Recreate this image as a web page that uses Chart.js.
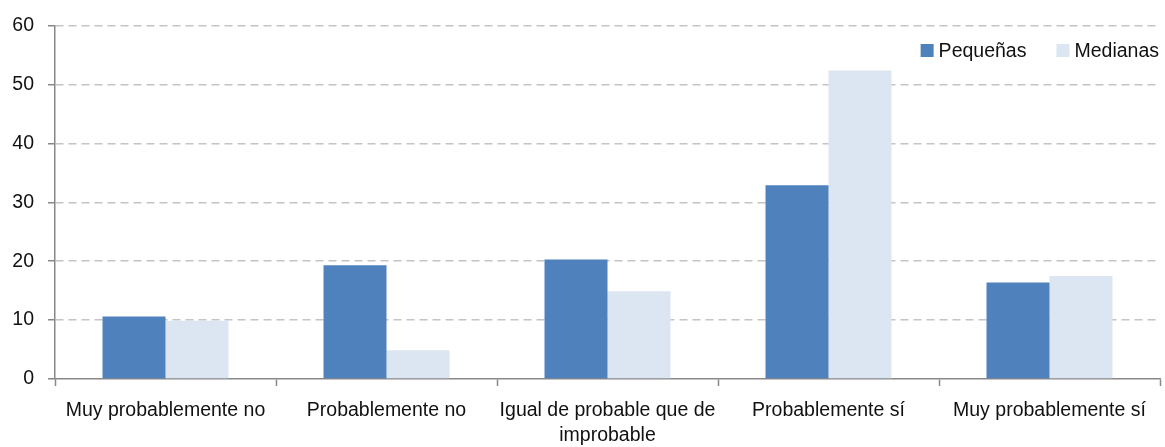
<!DOCTYPE html>
<html>
<head>
<meta charset="utf-8">
<script src="https://cdn.jsdelivr.net/npm/chart.js@4"></script>
<style>
  html, body { margin: 0; padding: 0; background: #fff; }
  #wrap { width: 1165px; height: 447px; }
</style>
</head>
<body>
<div id="wrap"><canvas id="chart"></canvas></div>
<script>
const categories = [
    'Muy probablemente no',
    'Probablemente no',
    ['Igual de probable que de', 'improbable'],
    'Probablemente sí',
    'Muy probablemente sí'
];
const pequenas = [10.6, 19.3, 20.3, 32.9, 16.4];
const medianas = [9.9, 4.9, 14.9, 52.4, 17.5];
const yTicks = [0, 10, 20, 30, 40, 50, 60];

const mainFont = "'Liberation Sans', Arial, sans-serif";

// legend drawn inside the plot, top right
const insideLegend = {
    id: 'insideLegend',
    afterDraw(chart) {
        const ctx = chart.ctx;
        const area = chart.chartArea;
        ctx.save();
        ctx.font = '19.5px ' + mainFont;
        ctx.textBaseline = 'middle';
        const items = chart.data.datasets.map(ds => ({ label: ds.label, color: ds.backgroundColor }));
        const box = 13, gap = 5, spacing = 30;
        let total = 0;
        items.forEach((it, i) => {
            it.w = ctx.measureText(it.label).width;
            total += box + gap + it.w + (i < items.length - 1 ? spacing : 0);
        });
        let x = area.right - 1 - total;
        const cy = 50.5;
        items.forEach(it => {
            ctx.fillStyle = it.color;
            ctx.fillRect(x, cy - box / 2, box, box);
            x += box + gap;
            ctx.fillStyle = '#111';
            ctx.fillText(it.label, x, cy + 1);
            x += it.w + spacing;
        });
        ctx.restore();
    }
};

new Chart(document.getElementById('chart').getContext('2d'), {
    type: 'bar',
    data: {
        labels: categories,
        datasets: [
            {
                label: 'Pequeñas',
                data: pequenas,
                backgroundColor: '#4F81BD',
                categoryPercentage: 0.57,
                barPercentage: 1.0
            },
            {
                label: 'Medianas',
                data: medianas,
                backgroundColor: '#DCE6F2',
                categoryPercentage: 0.57,
                barPercentage: 1.0
            }
        ]
    },
    options: {
        responsive: true,
        maintainAspectRatio: false,
        animation: false,
        layout: { padding: { top: 25, right: 5, left: 0, bottom: 0 } },
        plugins: {
            legend: { display: false },
            tooltip: { enabled: false }
        },
        scales: {
            x: {
                offset: true,
                grid: {
                    offset: true,
                    drawOnChartArea: false,
                    drawTicks: true,
                    tickLength: 7,
                    tickColor: '#888',
                    tickWidth: 1.5
                },
                border: { color: '#888', width: 1.5 },
                ticks: {
                    color: '#111',
                    font: { family: mainFont, size: 19.5, lineHeight: 1.3 },
                    padding: 12,
                    maxRotation: 0,
                    autoSkip: false
                },
                afterFit: scale => { scale.height = 68; }
            },
            y: {
                min: 0,
                max: 60,
                afterBuildTicks: scale => { scale.ticks = yTicks.map(v => ({ value: v })); },
                grid: {
                    color: ctx => ctx.tick && ctx.tick.value === 0 ? 'rgba(0,0,0,0)' : '#c4c4c4',
                    lineWidth: 1.5,
                    tickLength: 7,
                    tickColor: '#888',
                    tickWidth: 1.5
                },
                border: { color: '#888', width: 1.5, dash: [8, 5] },
                ticks: {
                    color: '#111',
                    font: { family: mainFont, size: 19.5 },
                    padding: 14
                },
                afterFit: scale => { scale.width = 55; }
            }
        }
    },
    plugins: [insideLegend]
});
</script>
</body>
</html>
